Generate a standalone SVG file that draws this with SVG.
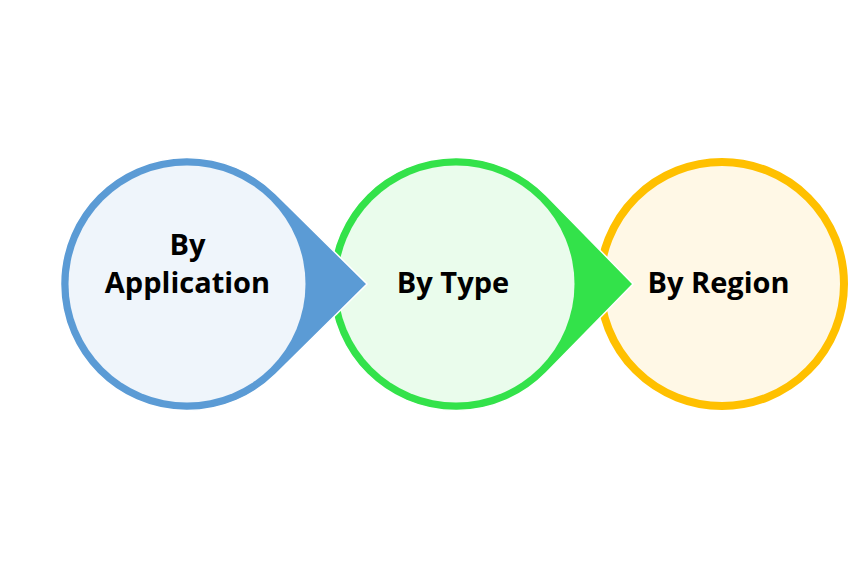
<svg xmlns="http://www.w3.org/2000/svg" width="858" height="568" viewBox="0 0 858 568">
<style>
.lbl{font-family:"Open Sans","Noto Sans","Liberation Sans",sans-serif;font-weight:700;font-size:29px;fill:#000;text-anchor:middle}
.drop{stroke:#fff;stroke-width:1.5;stroke-linejoin:miter}
</style>
<rect width="858" height="568" fill="#fff"/>
<g id="node-region">
<circle cx="722" cy="284" r="122" fill="#FFF8E6" stroke="#FFC000" stroke-width="8"/>
<text class="lbl" x="718.5" y="293">By Region</text>
</g>
<g id="node-type">
<path class="drop" fill="#33E24A" d="M546.4 195.5 L633 284 L546.4 372.5 A126.5 126.5 0 1 1 546.4 195.5 Z"/>
<circle cx="456" cy="284" r="118.5" fill="#EAFCEC"/>
<text class="lbl" x="453" y="293">By Type</text>
</g>
<g id="node-application">
<path class="drop" fill="#5B9BD5" d="M275.9 194 L367 284 L275.9 374 A126.5 126.5 0 1 1 275.9 194 Z"/>
<circle cx="187" cy="284" r="118.5" fill="#EFF5FB"/>
<text class="lbl" x="187.5" y="255">By</text>
<text class="lbl" x="187.5" y="293">Application</text>
</g>
<g id="connectors"></g>
</svg>
